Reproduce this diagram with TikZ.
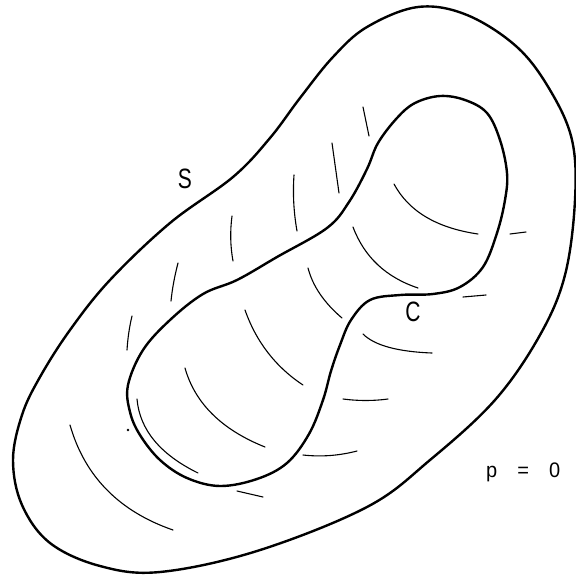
\documentclass[tikz,border=0pt]{standalone}
\usepackage{fontspec}
\setmainfont{Liberation Sans}

\begin{document}
\begin{tikzpicture}[
    x=1pt, y=-1pt,
    rim/.style={line width=2.4pt, line join=round},
    hatch/.style={line width=1.1pt, line cap=round},
    lbl/.style={inner sep=0pt, xscale=0.75, font=\fontsize{28}{30}\selectfont}
    ]

    \useasboundingbox (0,0) rectangle (576,574);

    % outer surface S
    \draw[rim] plot[smooth cycle, tension=0.6] coordinates {
        (418,7) (467,15) (517,47) (550,90) (572,140) (575,200)
        (565,275) (540,335) (495,400) (430,460) (367,507) (257,551)
        (160,572) (100,566) (50,543) (22,505) (13,460) (22,415)
        (40,377) (70,330) (110,280) (170,223) (233,177) (270,138)
        (300,98) (333,57) (367,27)};

    % inner curve C
    \draw[rim] plot[smooth cycle, tension=0.6] coordinates {
        (440,96) (465,100) (487,113) (500,140) (507,173) (505,200)
        (497,233) (483,267) (460,287) (433,294) (400,295) (370,300)
        (351,320) (340,345) (331,371) (323,400) (309,434) (287,463)
        (257,479) (220,486) (187,478) (160,460) (140,435) (130,412)
        (128,385) (143,350) (170,320) (203,294) (237,280) (277,257)
        (327,228) (349,202) (367,169) (378,143) (397,118) (415,103)};

    % hatching between S and C
    \draw[hatch] (363,107) -- (369,136);
    \draw[hatch] (332,143) -- (339,193);
    \draw[hatch] (294,175) .. controls (292.7,193.7) and (293.7,212.3) .. (297,231);
    \draw[hatch] (232,216) .. controls (230,231.3) and (230.3,246.3) .. (233,261);
    \draw[hatch] (178,263) .. controls (174.7,275.7) and (172.3,288.3) .. (171,301);
    \draw[hatch] (132,316) .. controls (129.3,327.3) and (127.7,338.7) .. (127,350);
    \draw[hatch] (510,234) -- (526,232);
    \draw[hatch] (463,297) -- (486,295);
    \draw[hatch] (343,399) .. controls (358.3,401) and (373.3,401) .. (388,399);
    \draw[hatch] (303,455) .. controls (321,457) and (339,455.7) .. (357,451);
    \draw[hatch] (237,491) -- (263,497);
    \draw[hatch] (363,334) .. controls (374.3,345.3) and (397.3,351.7) .. (432,353);
    \draw[hatch] (70,425) .. controls (84.7,476.3) and (119,511.3) .. (173,530);

    % hatching inside C
    \draw[hatch] (394,184) .. controls (408.7,211.3) and (436.7,228) .. (478,234);
    \draw[hatch] (353,227) .. controls (364.3,257) and (386,277.3) .. (418,288);
    \draw[hatch] (308,268) .. controls (312.7,286) and (324,302.7) .. (342,318);
    \draw[hatch] (245,310) .. controls (256.3,342) and (275.7,367) .. (303,385);
    \draw[hatch] (185,368) .. controls (195,403.3) and (221.7,429.7) .. (265,447);
    \draw[hatch] (137,399) .. controls (139.7,429.7) and (160,454.3) .. (198,473);

    \fill (128,430) circle (1.3pt);

    \node[lbl] (S) at (185,179) {S};
    \node[lbl] (C) at (413,312) {C};
    \node[lbl, xscale=1.27, font=\fontsize{21}{24}\selectfont, anchor=base west]
        (p) at (486,477) {p\hspace{21pt}=\hspace{21pt}0};

\end{tikzpicture}
\end{document}
